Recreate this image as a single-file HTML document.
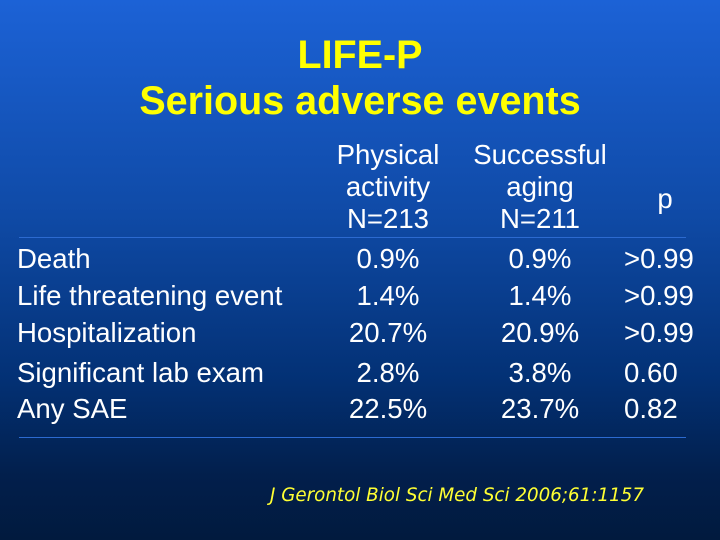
<!DOCTYPE html>
<html><head><style>
body{margin:0}
#s{position:relative;width:720px;height:540px;overflow:hidden;background:linear-gradient(to bottom,#1c62d6 0%,#0f4aa6 40%,#033175 70%,#021f4c 88%,#011a3e 100%);font-family:"Liberation Sans",Arial,sans-serif;color:#fff}
.t{position:absolute;left:0;width:720px;text-align:center;color:#ffff00;font-weight:bold;font-size:39.5px;line-height:40px}
.a{position:absolute;font-size:27.6px;line-height:24px;white-space:nowrap}
.c{transform:translateX(-50%);text-align:center}
.ln{position:absolute;left:19px;width:667px;height:1px;background:#2c6ad0}
</style></head><body><div id="s">
<div class="t" style="top:35px">LIFE-P</div>
<div class="t" style="top:81px">Serious adverse events</div>
<div class="a c" style="left:388px;top:143px">Physical</div>
<div class="a c" style="left:388px;top:175px">activity</div>
<div class="a c" style="left:388px;top:207px">N=213</div>
<div class="a c" style="left:540px;top:143px">Successful</div>
<div class="a c" style="left:540px;top:175px">aging</div>
<div class="a c" style="left:540px;top:207px">N=211</div>
<div class="a c" style="left:665px;top:187px">p</div>
<div class="ln" style="top:237px"></div>
<div class="a" style="left:17px;top:247px">Death</div>
<div class="a" style="left:17px;top:284px">Life threatening event</div>
<div class="a" style="left:17px;top:321px">Hospitalization</div>
<div class="a" style="left:17px;top:361px">Significant lab exam</div>
<div class="a" style="left:17px;top:397px">Any SAE</div>
<div class="a c" style="left:388px;top:247px">0.9%</div>
<div class="a c" style="left:388px;top:284px">1.4%</div>
<div class="a c" style="left:388px;top:321px">20.7%</div>
<div class="a c" style="left:388px;top:361px">2.8%</div>
<div class="a c" style="left:388px;top:397px">22.5%</div>
<div class="a c" style="left:540px;top:247px">0.9%</div>
<div class="a c" style="left:540px;top:284px">1.4%</div>
<div class="a c" style="left:540px;top:321px">20.9%</div>
<div class="a c" style="left:540px;top:361px">3.8%</div>
<div class="a c" style="left:540px;top:397px">23.7%</div>
<div class="a" style="left:624px;top:247px">&gt;0.99</div>
<div class="a" style="left:624px;top:284px">&gt;0.99</div>
<div class="a" style="left:624px;top:321px">&gt;0.99</div>
<div class="a" style="left:624px;top:361px">0.60</div>
<div class="a" style="left:624px;top:397px">0.82</div>
<div class="ln" style="top:437px"></div>
<div style="position:absolute;left:270px;top:485px;color:#ffff33;font-family:'DejaVu Sans',sans-serif;font-style:italic;font-size:18.3px;white-space:nowrap">J Gerontol Biol Sci Med Sci 2006;61:1157</div>
</div></body></html>
